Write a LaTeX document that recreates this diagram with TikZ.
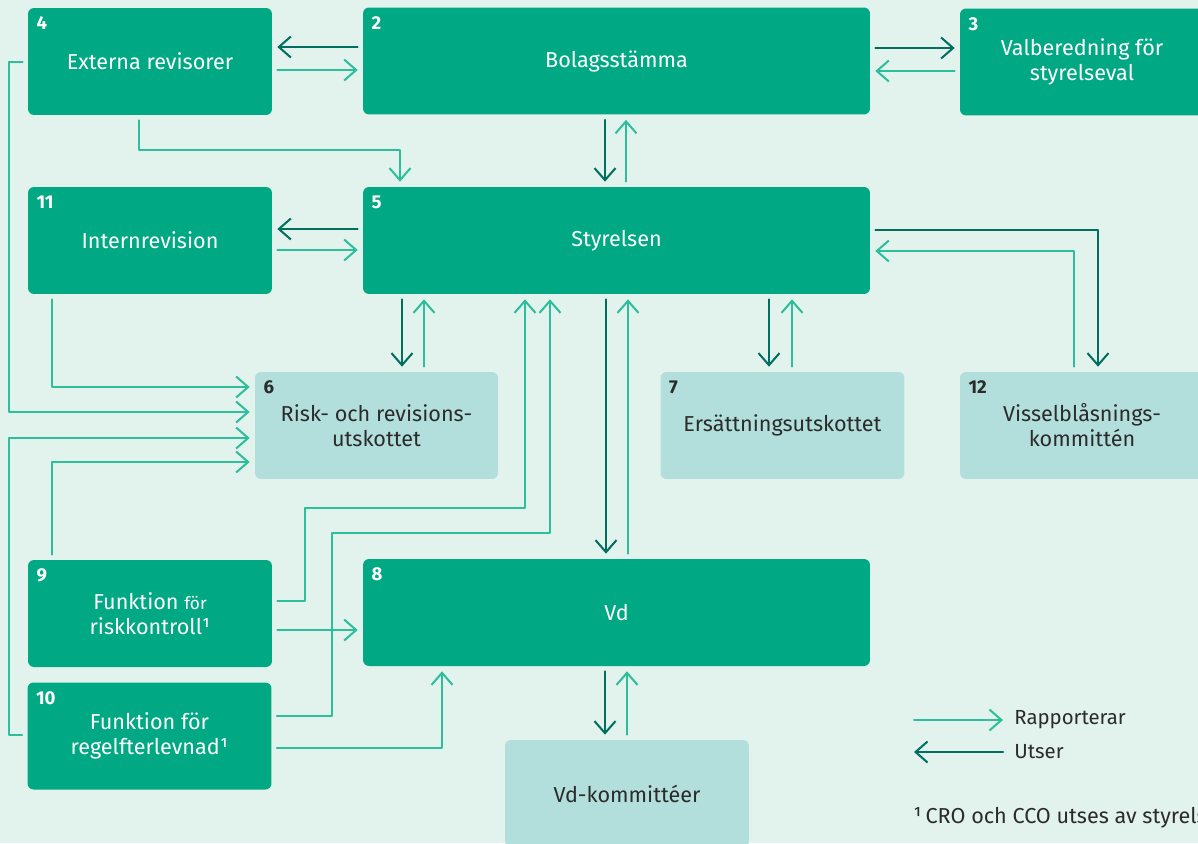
\documentclass[tikz,border=0pt]{standalone}
\usepackage{fontspec}
\setmainfont{Fira Sans}
\usetikzlibrary{arrows.meta}
\definecolor{bg}{HTML}{E2F2EC}
\definecolor{boxdark}{HTML}{00A884}
\definecolor{boxlight}{HTML}{B2DFDB}
\definecolor{repcol}{HTML}{2DBE9B}
\definecolor{utscol}{HTML}{006F5F}
\definecolor{txt}{HTML}{2B2B2B}
\newcommand{\lbl}{\fontsize{12.3}{14.2}\selectfont}
\newcommand{\lgd}{\fontsize{11.6}{14}\selectfont}
\newcommand{\nrfont}{\fontsize{10.6}{12}\selectfont\bfseries}
\begin{document}
\begin{tikzpicture}[x=0.02cm, y=-0.02cm, line join=round, line cap=round,
	box/.style={rounded corners=3.4pt, minimum width=4.88cm, minimum height=2.14cm, inner sep=0pt, align=center, font=\lbl},
	dbox/.style={box, fill=boxdark, text=white},
	lbox/.style={box, fill=boxlight, text=txt},
	wide/.style={minimum width=10.14cm},
	conn/.style={line width=1.15pt, shorten <=0.1cm, shorten >=0.1cm, -{Straight Barb[length=0.24cm, width=0.42cm]}},
	rep/.style={conn, draw=repcol},
	uts/.style={conn, draw=utscol},
	num/.style={anchor=north west, inner sep=0pt, font=\nrfont},
	lgtext/.style={anchor=west, inner sep=0pt, font=\lgd, text=txt}]
	\useasboundingbox (0,0) rectangle (1198,843);
	\clip (0,0) rectangle (1198,843);
	\fill[bg] (0,0) rectangle (1198,843);
	% boxes
	\node[dbox] (ext) at (150,61.5) {Externa revisorer};
	\node[dbox, wide] (bol) at (616.5,61) {Bolagsstämma};
	\node[dbox] (val) at (1082,62) {Valberedning för\\styrelseval};
	\node[dbox] (intrev) at (150,240.5) {Internrevision};
	\node[dbox, wide] (styr) at (616.5,240.5) {Styrelsen};
	\node[lbox, minimum width=4.86cm] (risk) at (376.5,425.5) {Risk- och revisions-\\utskottet};
	\node[lbox] (ers) at (782.5,425.5) {Ersättningsutskottet};
	\node[lbox] (vissel) at (1082,425.5) {Visselblåsnings-\\kommittén};
	\node[dbox] (rk) at (150,613.5) {Funktion {\fontsize{9.8}{14.2}\selectfont för}\\riskkontroll¹};
	\node[dbox, wide] (vd) at (616.5,612.5) {Vd};
	\node[dbox] (reg) at (149.5,736) {Funktion för\\regelfterlevnad¹};
	\node[lbox] (vdk) at (627,793.5) {Vd-kommittéer};
	\foreach \n/\t in {ext/4, bol/2, val/3, intrev/11, styr/5, rk/9, vd/8, reg/10}
		\node[num, text=white] at ([xshift=0.17cm, yshift=-0.18cm]\n.north west) {\t};
	\foreach \n/\t in {risk/6, ers/7, vissel/12}
		\node[num, text=txt] at ([xshift=0.17cm, yshift=-0.18cm]\n.north west) {\t};
	% top row
	\draw[uts] (bol.west |- 0,47) -- (ext.east |- 0,47);
	\draw[rep] (ext.east |- 0,70) -- (bol.west |- 0,70);
	\draw[uts] (bol.east |- 0,48) -- (val.west |- 0,48);
	\draw[rep] (val.west |- 0,71) -- (bol.east |- 0,71);
	\draw[rep] (139,0 |- ext.south) -- (139,150) -| (400,0 |- styr.north);
	\draw[uts] (605,0 |- bol.south) -- (605,0 |- styr.north);
	\draw[rep] (626,0 |- styr.north) -- (626,0 |- bol.south);
	% styrelsen
	\draw[uts] (styr.west |- 0,229) -- (intrev.east |- 0,229);
	\draw[rep] (intrev.east |- 0,250) -- (styr.west |- 0,250);
	\draw[uts] (styr.east |- 0,230) -| (1098,0 |- vissel.north);
	\draw[rep] (1074,0 |- vissel.north) |- (styr.east |- 0,251);
	\draw[uts] (402,0 |- styr.south) -- (402,0 |- risk.north);
	\draw[rep] (424,0 |- risk.north) -- (424,0 |- styr.south);
	\draw[uts] (769,0 |- styr.south) -- (769,0 |- ers.north);
	\draw[rep] (792,0 |- ers.north) -- (792,0 |- styr.south);
	\draw[uts] (606,0 |- styr.south) -- (606,0 |- vd.north);
	\draw[rep] (628,0 |- vd.north) -- (628,0 |- styr.south);
	\draw[uts] (605,0 |- vd.south) -- (605,0 |- vdk.north);
	\draw[rep] (627,0 |- vdk.north) -- (627,0 |- vd.south);
	% reports to risk committee
	\draw[rep] (52,0 |- intrev.south) |- (risk.west |- 0,387);
	\draw[rep] (ext.west |- 0,62) -| (9,412) -- (risk.west |- 0,412);
	\draw[rep] (reg.west |- 0,735) -| (9,438) -- (risk.west |- 0,438);
	\draw[rep] (52,0 |- rk.north) |- (risk.west |- 0,462);
	% control functions
	\draw[rep] (rk.east |- 0,601) -| (305,508) -| (525,0 |- styr.south);
	\draw[rep] (reg.east |- 0,716) -| (332,533) -| (550,0 |- styr.south);
	\draw[rep] (rk.east |- 0,630) -- (vd.west |- 0,630);
	\draw[rep] (reg.east |- 0,748) -| (442,0 |- vd.south);
	% legend
	\node[lgtext] (lrep) at (1014,720) {Rapporterar};
	\node[lgtext] (luts) at (1014,752) {Utser};
	\coordinate (lr) at (914,720);
	\coordinate (lu) at (914,752);
	\draw[rep, shorten <=0pt, shorten >=0.22cm] (lr) -- (lrep.west);
	\draw[uts, shorten <=0.22cm, shorten >=0pt] (luts.west) -- (lu);
	\node[lgtext, font=\lbl] (fn) at (913,818) {¹\,CRO och CCO utses av styrelsen};
\end{tikzpicture}
\end{document}
